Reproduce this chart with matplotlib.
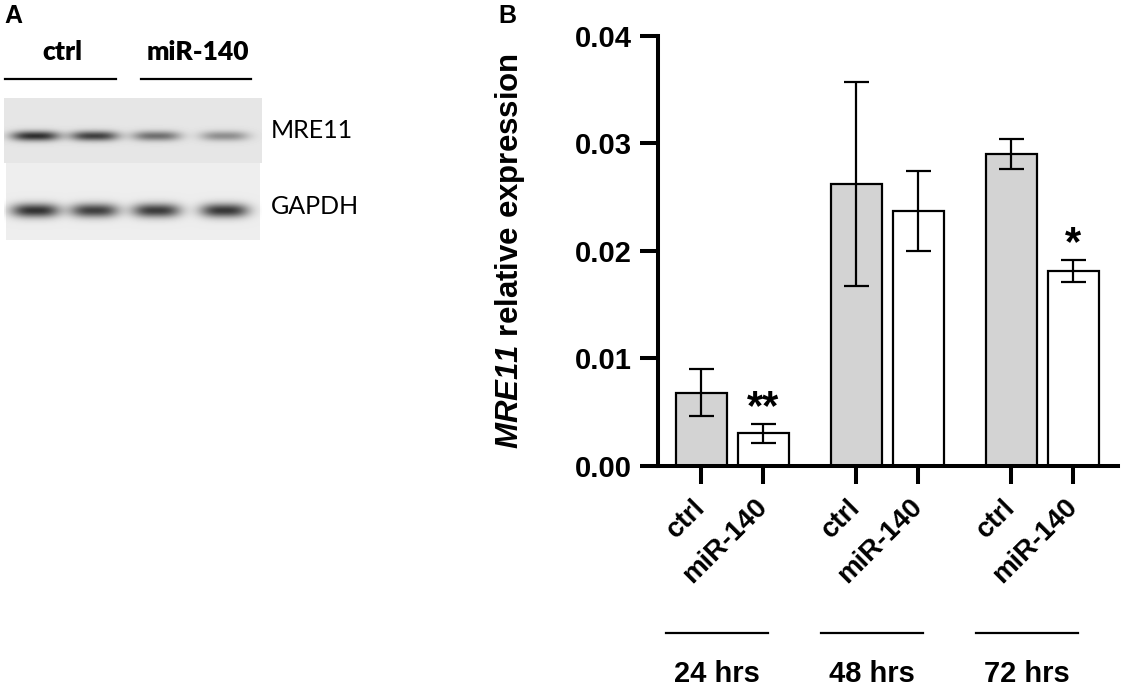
import numpy as np
import matplotlib
matplotlib.use('Agg')
import matplotlib.pyplot as plt
from matplotlib.transforms import blended_transform_factory

plt.rcParams['font.family'] = ['Liberation Sans', 'DejaVu Sans']
plt.rcParams['mathtext.fontset'] = 'custom'
plt.rcParams['mathtext.it'] = 'Liberation Sans:italic:bold'
# digits inside \mathit fall back to rm, so keep rm italic too
plt.rcParams['mathtext.rm'] = 'Liberation Sans:italic:bold'

# panel B : qPCR values
groups = ['24 hrs', '48 hrs', '72 hrs']
conditions = ['ctrl', 'miR-140']
ctrl_mean = [0.0068, 0.0262, 0.0290]
ctrl_err = [0.0022, 0.0095, 0.0014]
mir_mean = [0.0030, 0.0237, 0.0181]
mir_err = [0.0009, 0.0037, 0.0010]
stars = ['**', '', '*']
yticks = [0.00, 0.01, 0.02, 0.03, 0.04]

# panel A : blot band darkness per lane (ctrl, ctrl, miR-140, miR-140)
blot_lanes = ['ctrl', 'miR-140']
mre11_bands = [0.84, 0.76, 0.54, 0.40]
gapdh_bands = [0.86, 0.80, 0.82, 0.84]

W, H = 1122, 688
fig = plt.figure(figsize=(W / 100, H / 100), dpi=100)


def px(x, y):
    return x / W, 1 - y / H


# ---------------- panel A ----------------
fig.text(*px(4, 16), 'A', fontsize=18, fontweight='bold', va='center', ha='left')

bw, bh = 258, 142
axA = fig.add_axes([4 / W, 1 - 240 / H, bw / W, bh / H])
img = np.ones((bh, bw))
img[:65, :] = 0.90
img[65:, 2:256] = 0.93
xx = np.arange(bw)[None, :]
yy = np.arange(bh)[:, None]
lane_x = [31, 90, 152, 220]
for lx, a, b in zip(lane_x, mre11_bands, gapdh_bands):
    prof_x = np.exp(-(np.abs(xx - lx) / 24.0) ** 3)
    img[:65] -= 0.85 * a * (prof_x * np.exp(-((yy - 37.5) / 5.0) ** 2))[:65]
    img[65:] -= 0.85 * b * (prof_x * np.exp(-((yy - 112) / 7.0) ** 2))[65:]
axA.imshow(np.clip(img, 0, 1), cmap='gray', vmin=0, vmax=1, aspect='auto',
           interpolation='bilinear')
axA.axis('off')

fig.text(*px(271, 130), 'MRE11', fontsize=18, family='Lato', va='center', ha='left')
fig.text(*px(271, 206), 'GAPDH', fontsize=18, family='Lato', va='center', ha='left')
for name, (x0, x1) in zip(blot_lanes, [(5, 116), (141, 251)]):
    fig.text(*px((x0 + x1) / 2 + 2, 52), name, fontsize=19, family='Lato',
             fontweight='heavy', va='center', ha='center')
    fig.add_artist(plt.Line2D([x0 / W, x1 / W], [1 - 79 / H] * 2,
                              color='black', lw=1.6))

# ---------------- panel B ----------------
fig.text(*px(498, 16), 'B', fontsize=18, fontweight='bold', va='center', ha='left')

ax = fig.add_axes([658 / W, 1 - 465.7 / H, 460 / W, 430 / H])
gpos = np.arange(len(groups)) * 2.5
x_ctrl = gpos
x_mir = gpos + 1

ax.bar(x_ctrl, ctrl_mean, width=0.82, color='#d3d3d3', edgecolor='black', linewidth=1.6, zorder=2)
ax.bar(x_mir, mir_mean, width=0.82, color='white', edgecolor='black', linewidth=1.6, zorder=2)
for xs, m, e in [(x_ctrl, ctrl_mean, ctrl_err), (x_mir, mir_mean, mir_err)]:
    ax.errorbar(xs, m, yerr=e, fmt='none', ecolor='black', elinewidth=1.6,
                capsize=9, capthick=1.6, zorder=3)

for xs, m, e, s in zip(x_mir, mir_mean, mir_err, stars):
    if s:
        ax.annotate(s, (xs, m + e), xytext=(0, -3), textcoords='offset points',
                    ha='center', va='bottom', fontsize=30, fontweight='bold')

ax.set_xlim(-0.70, 6.72)
ax.set_ylim(0, 0.04)
ax.set_yticks(yticks)
ax.set_yticklabels([f'{v:.2f}' for v in yticks], fontsize=21, fontweight='bold')
ticks_x = np.ravel(np.column_stack([x_ctrl, x_mir]))
ax.set_xticks(ticks_x)
ax.set_xticklabels(conditions * len(groups), rotation=45, ha='right', va='center',
                   rotation_mode='anchor', fontsize=20, fontweight='bold')
for sp in ['top', 'right']:
    ax.spines[sp].set_visible(False)
for sp in ['left', 'bottom']:
    ax.spines[sp].set_linewidth(2.9)
ax.tick_params(axis='both', direction='out', length=13, width=2.9, pad=6)
ax.tick_params(axis='x', pad=14)

ax.set_ylabel(r'$\mathit{MRE11}$ relative expression', fontsize=22.5, fontweight='bold')
ax.yaxis.set_label_coords(-0.285, 0.5)

# group labels under the tick labels
trans = blended_transform_factory(ax.transData, ax.transAxes)
for g, name in zip(gpos, groups):
    c = g + 0.5 - 0.25
    ax.plot([c - 0.82, c + 0.82], [-0.389, -0.389], color='black', lw=1.6,
            transform=trans, clip_on=False)
    ax.text(c, -0.485, name, transform=trans, ha='center', va='center',
            fontsize=21, fontweight='bold')

fig.savefig('out.png', dpi=100)
